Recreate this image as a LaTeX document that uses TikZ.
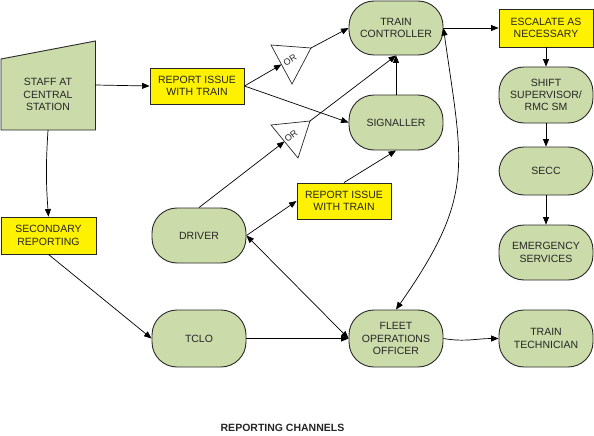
\documentclass[tikz,border=0pt]{standalone}
\usepackage{fontspec}
\setmainfont{Liberation Sans}
\usetikzlibrary{arrows.meta}
\definecolor{grn}{RGB}{204,219,170}
\definecolor{edge}{RGB}{40,40,40}
\begin{document}
\begin{tikzpicture}[x=1pt,y=-1pt,
  every node/.style={font=\fontsize{10.5}{12.3}\selectfont, align=center, inner sep=0pt, text=black!85},
  grnbox/.style={draw=edge, line width=0.9pt, fill=grn, minimum width=94pt, rounded corners=25pt},
  ybox/.style={draw=edge, line width=0.9pt, fill=yellow, minimum width=94pt, minimum height=36pt},
  tri/.style={draw=edge, line width=0.7pt, fill=white},
  conn/.style={draw=black, line width=0.7pt, -{Triangle[length=7.5pt,width=6pt]}},
  dconn/.style={draw=black, line width=0.7pt, {Triangle[length=7.5pt,width=6pt]}-{Triangle[length=7.5pt,width=6pt]}},
  ortext/.style={font=\fontsize{9}{10}\selectfont}
]
\useasboundingbox (0,0) rectangle (594,436);

% staff at central station (manual input shape)
\draw[draw=edge, line width=0.9pt, fill=grn] (1,59) -- (95.5,41) -- (95.5,130) -- (1,130) -- cycle;
\node[minimum width=94pt, minimum height=71pt] (staff) at (48,94.5) {STAFF AT\\CENTRAL\\STATION};

\node[ybox] (rep1) at (197,86) {REPORT ISSUE\\WITH TRAIN};
\node[ybox, minimum width=95pt, minimum height=37pt] (sec) at (48.5,235.5) {SECONDARY\\REPORTING};
\node[ybox] (rep2) at (344,201) {REPORT ISSUE\\WITH TRAIN};
\node[ybox, minimum height=38pt] (esc) at (546,28) {ESCALATE AS\\NECESSARY};

\node[grnbox, minimum height=54pt] (ctrl) at (396,28) {TRAIN\\CONTROLLER};
\node[grnbox, minimum height=55pt] (sig) at (396,122.5) {SIGNALLER};
\node[grnbox, minimum height=56pt] (shift) at (546,95) {SHIFT\\SUPERVISOR/\\RMC SM};
\node[grnbox, minimum height=48pt] (secc) at (546,171) {SECC};
\node[grnbox, minimum height=55pt] (emer) at (546,252.5) {EMERGENCY\\SERVICES};
\node[grnbox, minimum height=57pt] (tech) at (546,338.5) {TRAIN\\TECHNICIAN};
\node[grnbox, minimum height=57pt] (fleet) at (396,338.5) {FLEET\\OPERATIONS\\OFFICER};
\node[grnbox, minimum height=57pt] (tclo) at (199,338.5) {TCLO};
\node[grnbox, minimum height=55pt] (driver) at (199,235.5) {DRIVER};

% OR triangles
\draw[tri] (271,45) -- (311,48) -- (292,84) -- cycle;
\coordinate (t1in) at (281.5,64.5);
\coordinate (t1out) at (311,48);
\node[ortext, rotate=32] (or1) at (290,60) {OR};
\draw[tri] (271,125) -- (310,121) -- (298,158) -- cycle;
\coordinate (t2in) at (284.5,141.5);
\coordinate (t2out) at (310,121);
\node[ortext, rotate=38] (or2) at (291,136) {OR};

% connectors
\draw[conn] ([yshift=9.5pt]staff.east) -- (rep1.west);
\draw[conn] (staff.south) to[bend right=4] (sec.north);
\draw[conn] (sec.south) -- (tclo.west);
\draw[conn] (tclo.east) -- (fleet.west);
\draw[dconn] (driver.east) -- (fleet.west);
\draw[conn] (driver.east) -- (rep2.west);
\draw[conn] (rep2.north) -- (sig.south);
\draw[conn] (driver.north) -- (t2in);
\draw[conn] (t2out) -- (ctrl.south);
\draw[conn] (rep1.east) -- (t1in);
\draw[conn] (t1out) -- (ctrl.west);
\draw[conn] (rep1.east) -- (sig.west);
\draw[conn] (sig.north) -- (ctrl.south);
\draw[conn] (ctrl.east) -- (esc.west);
\draw[conn] (esc.south) -- (shift.north);
\draw[conn] (shift.south) -- (secc.north);
\draw[conn] (secc.south) -- (emer.north);
\draw[conn] (fleet.east) to[out=-10,in=180] (tech.west);
\draw[dconn] (ctrl.east) to[out=-82,in=55,looseness=1.25] (fleet.north);

\node[font=\bfseries\fontsize{10.5}{12}\selectfont] (title) at (282.5,428) {REPORTING CHANNELS};
\end{tikzpicture}
\end{document}
